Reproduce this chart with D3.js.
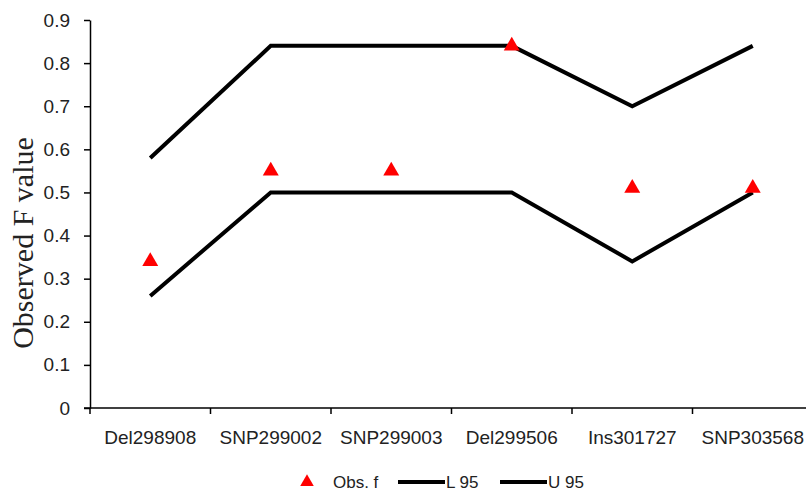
<!DOCTYPE html>
<html>
<head>
<meta charset="utf-8">
<script src="https://cdn.jsdelivr.net/npm/d3@7"></script>
<style>
  body { margin: 0; background: #fff; }
  svg text { font-family: "Liberation Sans", Arial, sans-serif; fill: #222; }
</style>
</head>
<body>
<div id="container"></div>
<script>
var width = 806,
    height = 491;

// data
var markers = ["Del298908", "SNP299002", "SNP299003", "Del299506", "Ins301727", "SNP303568"];
var obsF = [0.34, 0.55, 0.55, 0.84, 0.51, 0.51];
var lower95 = [0.26, 0.50, 0.50, 0.50, 0.34, 0.50];
var upper95 = [0.58, 0.84, 0.84, 0.84, 0.70, 0.84];
var yTicks = [0, 0.1, 0.2, 0.3, 0.4, 0.5, 0.6, 0.7, 0.8, 0.9];

var svg = d3.select("#container").append("svg")
    .attr("width", width)
    .attr("height", height);

var x = d3.scaleBand()
    .domain(markers)
    .range([90, 813]);

var y = d3.scaleLinear()
    .domain([0, 0.9])
    .range([408, 20]);

// y axis
var yAxis = svg.append("g")
    .attr("transform", "translate(90,0)")
    .call(d3.axisLeft(y).tickValues(yTicks).tickSize(6).tickSizeOuter(0)
        .tickFormat(function (d) { return d === 0 ? "0" : d3.format(".1f")(d); }));
yAxis.selectAll("text").attr("font-size", 19).attr("dx", "-11");
yAxis.selectAll("line").attr("stroke", "#000").attr("stroke-width", 1.5);
yAxis.select(".domain").attr("stroke", "#000").attr("stroke-width", 1.5);

// x axis - ticks sit between categories
var xAxis = svg.append("g")
    .attr("transform", "translate(0,408)");
xAxis.append("line")
    .attr("x1", 84).attr("x2", width)
    .attr("stroke", "#000").attr("stroke-width", 1.5);
xAxis.selectAll(".tk")
    .data(markers)
    .enter().append("line")
    .attr("x1", function (d) { return x(d); })
    .attr("x2", function (d) { return x(d); })
    .attr("y1", 0).attr("y2", 6)
    .attr("stroke", "#000").attr("stroke-width", 1.5);
xAxis.selectAll(".lbl")
    .data(markers)
    .enter().append("text")
    .attr("x", function (d) { return x(d) + x.bandwidth() / 2; })
    .attr("y", 36)
    .attr("text-anchor", "middle")
    .attr("font-size", 19)
    .text(function (d) { return d; });

// y title
svg.append("text")
    .attr("transform", "translate(33,243) rotate(-90)")
    .attr("text-anchor", "middle")
    .style("font-family", "'Liberation Serif', 'Times New Roman', serif")
    .attr("font-size", 30)
    .text("Observed F value");

var line = d3.line()
    .x(function (d, i) { return x(markers[i]) + x.bandwidth() / 2; })
    .y(function (d) { return y(d); });

[lower95, upper95].forEach(function (s) {
    svg.append("path")
        .datum(s)
        .attr("d", line)
        .attr("fill", "none")
        .attr("stroke", "#000")
        .attr("stroke-width", 4);
});

var tri = d3.symbol().type(d3.symbolTriangle).size(110);
svg.selectAll(".obs")
    .data(obsF)
    .enter().append("path")
    .attr("d", tri)
    .attr("transform", function (d, i) {
        return "translate(" + (x(markers[i]) + x.bandwidth() / 2) + "," + y(d) + ")";
    })
    .attr("fill", "#ff0000");

// legend
var lg = svg.append("g").attr("transform", "translate(0,482)");
lg.append("path").attr("d", d3.symbol().type(d3.symbolTriangle).size(80)).attr("fill", "#ff0000").attr("transform", "translate(307,0)");
lg.append("text").attr("x", 333).attr("y", 6).attr("font-size", 17).text("Obs. f");
lg.append("line").attr("x1", 398).attr("x2", 445).attr("stroke", "#000").attr("stroke-width", 4);
lg.append("text").attr("x", 446).attr("y", 6).attr("font-size", 17).text("L 95");
lg.append("line").attr("x1", 500).attr("x2", 547).attr("stroke", "#000").attr("stroke-width", 4);
lg.append("text").attr("x", 548).attr("y", 6).attr("font-size", 17).text("U 95");
</script>
</body>
</html>
